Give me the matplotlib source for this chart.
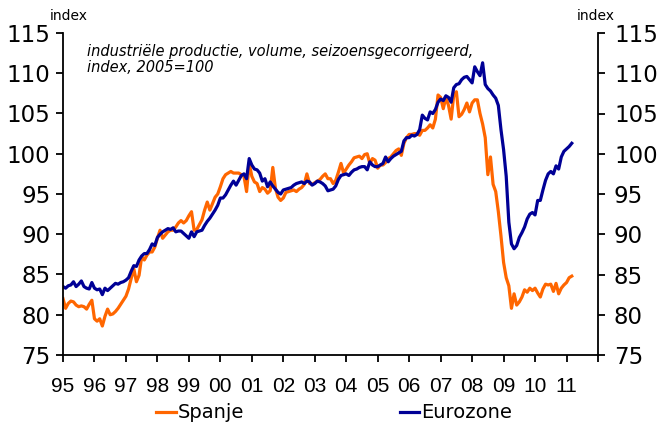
import numpy as np
import matplotlib
matplotlib.use("Agg")
import matplotlib.pyplot as plt

# monthly index values, 2005=100, Jan 1995 - Mar 2011
start_year = 1995
spanje = [
    82.0, 80.8, 81.4, 81.7, 81.6, 81.2, 81.0, 81.1, 81.0, 80.7, 81.3, 81.8,  # 1995
    79.5, 79.2, 79.5, 78.6, 79.8, 80.7, 80.0, 80.1, 80.4, 80.8, 81.3, 81.8,  # 1996
    82.3, 83.2, 84.5, 85.7, 84.1, 84.9, 87.2, 86.8, 87.4, 87.8, 87.8, 88.4,  # 1997
    89.5, 90.5, 89.5, 89.9, 90.3, 90.5, 90.5, 90.9, 91.4, 91.7, 91.4, 91.7,  # 1998
    92.3, 92.8, 90.5, 90.6, 91.2, 91.8, 93.0, 94.0, 93.0, 93.8, 94.6, 95.0,  # 1999
    95.9, 96.9, 97.4, 97.6, 97.8, 97.6, 97.6, 97.6, 97.4, 97.2, 95.3, 98.8,  # 2000
    97.2, 96.5, 96.3, 95.3, 95.8, 95.6, 95.1, 95.4, 98.3, 95.7, 94.6, 94.2,  # 2001
    94.5, 95.2, 95.3, 95.4, 95.5, 95.3, 95.6, 95.8, 96.2, 97.5, 96.3, 96.2,  # 2002
    96.4, 96.6, 96.8, 97.2, 97.5, 96.9, 96.9, 96.3, 96.7, 97.7, 98.8, 97.6,  # 2003
    98.1, 98.6, 99.0, 99.5, 99.6, 99.7, 99.4, 99.9, 100.0, 98.8, 99.4, 99.2,  # 2004
    98.2, 98.6, 98.6, 98.9, 99.4, 99.6, 100.0, 100.4, 100.6, 99.8, 101.3, 102.0,  # 2005
    102.4, 102.4, 102.5, 102.5, 102.3, 102.9, 102.9, 103.2, 103.6, 103.2, 104.3, 107.3,  # 2006
    107.0, 105.6, 107.0, 106.0, 104.3, 107.3, 107.7, 104.6, 104.9, 105.5, 106.3, 105.2,  # 2007
    106.3, 106.7, 106.7, 105.0, 103.7, 102.0, 97.4, 99.6, 96.2, 95.3, 92.8, 89.8,  # 2008
    86.5, 84.6, 83.6, 80.8, 82.6, 81.2, 81.6, 82.2, 83.1, 82.8, 83.3, 83.0,  # 2009
    83.3, 82.7, 82.2, 83.2, 83.8, 83.7, 83.8, 82.9, 83.9, 82.6, 83.3, 83.7,  # 2010
    84.0, 84.6, 84.8,  # 2011
]
eurozone = [
    83.5, 83.3, 83.6, 83.7, 84.1, 83.5, 83.8, 84.2, 83.5, 83.3, 83.2, 84.0,  # 1995
    83.3, 83.1, 83.2, 82.5, 83.3, 83.0, 83.3, 83.6, 83.9, 83.8, 84.0, 84.1,  # 1996
    84.3, 84.6, 85.4, 86.1, 86.0, 86.8, 87.3, 87.6, 87.6, 88.1, 88.8, 88.6,  # 1997
    89.6, 90.0, 90.3, 90.5, 90.7, 90.6, 90.8, 90.3, 90.4, 90.4, 90.1, 89.8,  # 1998
    89.5, 90.3, 89.7, 90.3, 90.4, 90.5, 91.1, 91.6, 92.0, 92.5, 93.0, 93.6,  # 1999
    94.5, 94.5, 94.9, 95.5, 96.1, 96.6, 96.1, 96.7, 97.3, 97.5, 96.9, 99.4,  # 2000
    98.6, 98.1, 98.0, 97.6, 96.6, 96.9, 95.9, 96.5, 96.0, 95.6, 95.2, 95.0,  # 2001
    95.5, 95.6, 95.7, 95.8, 96.1, 96.3, 96.4, 96.5, 96.3, 96.6, 96.5, 96.1,  # 2002
    96.3, 96.6, 96.5, 96.3, 96.0, 95.4, 95.5, 95.6, 96.0, 96.8, 97.3, 97.4,  # 2003
    97.5, 97.3, 97.7, 98.0, 98.1, 98.3, 98.4, 98.4, 98.0, 99.0, 98.6, 98.4,  # 2004
    98.4, 98.6, 98.8, 99.6, 99.0, 99.4, 99.7, 99.9, 100.1, 100.3, 101.6, 102.0,  # 2005
    102.0, 102.3, 102.2, 102.4, 103.0, 104.8, 104.4, 104.2, 105.2, 105.0, 105.5, 106.4,  # 2006
    106.8, 106.6, 107.2, 107.0, 106.4, 108.2, 108.6, 108.7, 109.2, 109.5, 109.6, 109.2,  # 2007
    108.8, 110.8, 110.2, 109.7, 111.3, 108.6, 108.1, 107.8, 107.3, 106.9, 106.0, 103.0,  # 2008
    100.5, 97.2, 91.5, 88.8, 88.2, 88.6, 89.6, 90.2, 90.9, 91.9, 92.5, 92.7,  # 2009
    92.4, 94.2, 94.2, 95.5, 96.7, 97.5, 97.8, 97.5, 98.5, 98.1, 99.6, 100.3,  # 2010
    100.6, 100.9, 101.3,  # 2011
]
tick_years = list(range(1995, 2013))
tick_labels = ["95", "96", "97", "98", "99", "00", "01", "02", "03",
               "04", "05", "06", "07", "08", "09", "10", "11", ""]
y_ticks = [75, 80, 85, 90, 95, 100, 105, 110, 115]

x = start_year + np.arange(len(spanje)) / 12

fig = plt.figure(figsize=(6.58, 4.25), dpi=100)
ax = fig.add_axes([63 / 658, 70 / 425, 535 / 658, 322 / 425])

ax.plot(x, spanje, color="#ff6600", lw=2.3, label="Spanje")
ax.plot(x, eurozone, color="#000096", lw=2.3, label="Eurozone")

ax.set_xlim(1995, 2012)
ax.set_ylim(75, 115)
ax.set_yticks(y_ticks)
ax.set_xticks(tick_years)
ax.set_xticklabels(tick_labels, fontsize=15, family="Liberation Sans")

ax.spines["top"].set_visible(False)
ax.spines["right"].set_visible(False)
for s in ["left", "bottom"]:
    ax.spines[s].set_linewidth(1.3)
ax.tick_params(axis="y", direction="out", length=5, width=1.3, labelsize=16.5, pad=4)
ax.tick_params(axis="x", direction="out", length=5, width=1.3, pad=11)

# right hand axis with the same scale
right = ax.secondary_yaxis("right")
right.set_yticks(y_ticks)
right.spines["right"].set_linewidth(1.3)
right.tick_params(direction="out", length=5, width=1.3, labelsize=16.5, pad=6.5)

fig.text(50 / 658, 1 - 16 / 425, "index", fontsize=10, va="center", ha="left")
fig.text(615 / 658, 1 - 16 / 425, "index", fontsize=10, va="center", ha="right")
fig.text(87 / 658, 1 - 44 / 425,
         "industriële productie, volume, seizoensgecorrigeerd,\nindex, 2005=100",
         fontsize=10.5, style="italic", va="top", ha="left", linespacing=1.1)

fig.legend(loc="center", bbox_to_anchor=(0.508, 1 - 413 / 425), ncol=2,
           frameon=False, prop={"size": 14},
           handlelength=1.0, handletextpad=0.1, columnspacing=8.0)

fig.savefig("out.png", dpi=100)
